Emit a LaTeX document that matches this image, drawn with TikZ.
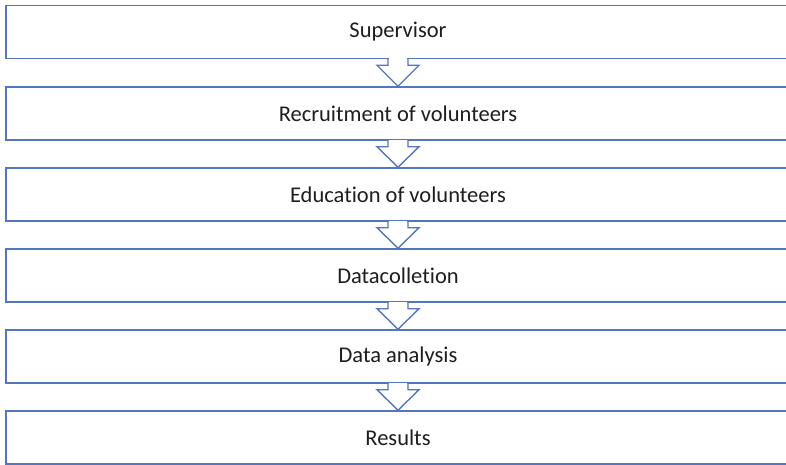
\documentclass[tikz,border=0pt]{standalone}
\usepackage{fontspec}
\setmainfont{Carlito}[Ligatures=NoCommon]
\usepackage{tikz}
\usetikzlibrary{calc, positioning}
\definecolor{boxblue}{RGB}{84,118,190}
\definecolor{inktext}{RGB}{30,30,30}

\tikzset{
  stage/.style={draw=boxblue, line width=1.5pt, fill=white, minimum width=784pt,
    minimum height=53pt, inner sep=0pt, text=inktext,
    font=\fontsize{22.5}{26}\selectfont},
  flowarrow/.style={draw=boxblue, line width=1.4pt, fill=white, line join=miter}
}

% block arrow from the bottom of one stage to the top of the next
\newcommand{\flowarrow}[2]{%
\filldraw[flowarrow]($(#1.south)+(-10,0)$)--($(#1.south)+(-10,6)$)--($(#1.south)+(-21,6)$)
  --(#2.north)--($(#1.south)+(21,6)$)--($(#1.south)+(10,6)$)--($(#1.south)+(10,0)$);
\fill[white]($(#1.south)+(-9.2,-1.2)$) rectangle ($(#1.south)+(9.2,1.2)$);
}

\begin{document}
\begin{tikzpicture}[x=1pt,y=-1pt]
\useasboundingbox (0,0) rectangle (786,465);

\node[stage] (sup) at (398,32) {Supervisor};
\node[stage] (recruit) at (398,113.5) {Recruitment of volunteers};
\node[stage] (educ) at (398,194.5) {Education of volunteers};
\node[stage] (collect) at (398,275.5) {Datacollet\kern0pt ion};
\node[stage] (analysis) at (398,356.5) {Data analysis};
\node[stage] (results) at (398,437.5) {Results};

\flowarrow{sup}{recruit}
\flowarrow{recruit}{educ}
\flowarrow{educ}{collect}
\flowarrow{collect}{analysis}
\flowarrow{analysis}{results}

\end{tikzpicture}
\end{document}
